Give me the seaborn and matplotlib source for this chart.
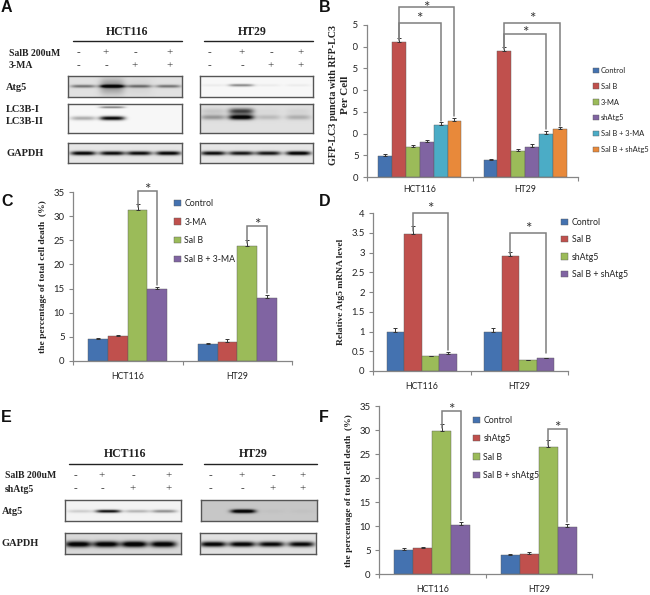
import matplotlib
matplotlib.use("Agg")
import matplotlib.pyplot as plt
import numpy as np
import pandas as pd
import seaborn as sns
from matplotlib.container import BarContainer
from matplotlib.transforms import Bbox

W, H = 650, 595

cell_lines = ["HCT116", "HT29"]

# panel B
b_groups = ["Control", "Sal B", "3-MA", "shAtg5", "Sal B + 3-MA", "Sal B + shAtg5"]
b_hct = [4.9, 31.0, 6.9, 8.0, 12.0, 12.9]
b_ht = [3.9, 29.0, 5.9, 6.9, 10.0, 11.0]
b_hct_err = [0.4, 1.1, 0.5, 0.6, 0.6, 0.6]
b_ht_err = [0.2, 0.9, 0.5, 0.6, 0.6, 0.5]

# panel C
c_groups = ["Control", "3-MA", "Sal B", "Sal B + 3-MA"]
c_hct = [4.6, 5.1, 31.3, 15.0]
c_ht = [3.6, 4.0, 23.9, 13.1]
c_hct_err = [0.2, 0.2, 1.3, 0.4]
c_ht_err = [0.1, 0.5, 1.2, 0.6]

# panel D
d_groups = ["Control", "Sal B", "shAtg5", "Sal B + shAtg5"]
d_hct = [1.0, 3.48, 0.37, 0.44]
d_ht = [1.0, 2.9, 0.27, 0.32]
d_hct_err = [0.1, 0.2, 0.02, 0.04]
d_ht_err = [0.09, 0.12, 0.01, 0.01]

# panel F
f_groups = ["Control", "shAtg5", "Sal B", "Sal B + shAtg5"]
f_hct = [5.1, 5.4, 29.8, 10.2]
f_ht = [3.9, 4.1, 26.4, 9.8]
f_hct_err = [0.3, 0.3, 1.5, 0.7]
f_ht_err = [0.3, 0.5, 1.5, 0.6]

# blot band strength per lane
a_atg5_hct = [0.45, 0.95, 0.45, 0.45]
a_atg5_smear = [0.0, 0.3, 0.05, 0.0]
a_atg5_ht = [0.05, 0.45, 0.05, 0.05]
a_lc3i_hct = [0.0, 0.5, 0.0, 0.0]
a_lc3ii_hct = [0.3, 1.0, 0.0, 0.0]
a_lc3i_ht = [0.1, 0.65, 0.03, 0.05]
a_lc3ii_ht = [0.3, 1.0, 0.15, 0.2]
a_gapdh_hct = [0.95, 0.9, 0.9, 0.95]
a_gapdh_ht = [0.9, 0.85, 0.85, 1.0]
e_atg5_hct = [0.15, 0.95, 0.25, 0.4]
e_atg5_ht = [0.0, 0.95, 0.02, 0.02]
e_gapdh_hct = [0.95, 0.95, 1.0, 0.95]
e_gapdh_ht = [0.95, 0.95, 0.9, 0.9]

a_rows = ["SalB 200uM", "3-MA"]
e_rows = ["SalB 200uM", "shAtg5"]
row_one_signs = ["-", "+", "-", "+"]
row_two_signs = ["-", "-", "+", "+"]

palette = ["#4472B0", "#C0504D", "#9BBB59", "#8064A2", "#4BACC6", "#E8893A"]
grey = "#868686"
serif = "Liberation Serif"
sans = "Lato"

sns.set_theme(style="white")
plt.rcParams["font.family"] = [sans, "DejaVu Sans"]

fig = plt.figure(figsize=(W / 100, H / 100), dpi=100)


def px_axes(x0, y0, x1, y1):
    return fig.add_axes([x0 / W, 1 - y1 / H, (x1 - x0) / W, (y1 - y0) / H])


def px_text(x, y, s, **kw):
    kw.setdefault("va", "center")
    return fig.text(x / W, 1 - y / H, s, **kw)


def bar_sets(ax):
    return [c for c in ax.containers if isinstance(c, BarContainer)]


def bar_panel(box, groups, hct, ht, hct_err, ht_err, ymax, ticks, labels, width, font, label_y):
    df = pd.DataFrame(
        {
            "Line": [cell_lines[0]] * len(groups) + [cell_lines[1]] * len(groups),
            "Group": groups + groups,
            "Value": hct + ht,
        }
    )
    ax = px_axes(*box)
    sns.barplot(
        data=df, x="Line", y="Value", hue="Group", palette=palette[: len(groups)],
        width=width, gap=0, errorbar=None, saturation=1, ax=ax,
        edgecolor="#5a5a5a", linewidth=0.3,
    )
    for h, cont in enumerate(bar_sets(ax)):
        for i, bar in enumerate(cont):
            err = [hct_err, ht_err][i][h]
            ax.errorbar(
                bar.get_x() + bar.get_width() / 2, bar.get_height(), yerr=[[0], [err]],
                color="#333333", capsize=1.6, elinewidth=0.7, capthick=0.7, clip_on=False,
            )
    ax.set_xlim(-0.5, 1.5)
    ax.set_ylim(0, ymax)
    ax.set_yticks(ticks)
    ax.set_yticklabels(labels, size=font + 0.6, color="#222222")
    ax.set_xticks([0, 1])
    ax.set_xticklabels(cell_lines, size=font, color="#222222")
    ax.set_xticks([-0.5, 0.5, 1.5], minor=True)
    ax.tick_params(axis="x", which="major", length=0, pad=label_y)
    ax.tick_params(axis="x", which="minor", length=3, color=grey, width=0.8, bottom=True)
    ax.tick_params(axis="y", length=3, color=grey, width=0.8, left=True, pad=3)
    ax.set_xlabel("")
    ax.set_ylabel("")
    sns.despine(ax=ax)
    for side in ["left", "bottom"]:
        ax.spines[side].set_color(grey)
        ax.spines[side].set_linewidth(0.9)
    ax.get_legend().remove()
    return ax


def panel_legend(ax, groups, x, y, font, spacing, textpad=0.45):
    handles = [c.patches[0] for c in bar_sets(ax)]
    ax.legend(
        handles, groups, loc="upper left", bbox_to_anchor=(x / W, 1 - y / H),
        bbox_transform=fig.transFigure, frameon=False, fontsize=font, labelspacing=spacing,
        handlelength=0.75, handleheight=0.75, handletextpad=textpad, borderpad=0, borderaxespad=0,
        labelcolor="#222222",
    )


def bracket(ax, start, end, top, low, star_off=-2.5):
    # start/end are (hue, category) of the bars that the bracket joins
    sets = bar_sets(ax)
    bars = [sets[h][i] for h, i in (start, end)]
    x0, x1 = [b.get_x() + b.get_width() / 2 for b in bars]
    start_low = bars[0].get_height() * 1.02
    ax.plot([x0, x0, x1, x1], [start_low, top, top, low], color="#7f7f7f", lw=1.1,
            clip_on=False, solid_joinstyle="miter")
    ax.annotate("*", ((x0 + x1) / 2, top), xytext=(0, star_off), textcoords="offset points",
                ha="center", va="bottom", fontsize=11, color="#333333", annotation_clip=False)


def blot(box, lanes, bands, bg=0.96, half=12.5, edge="#555555"):
    x0, y0, x1, y1 = box
    ax = px_axes(x0, y0, x1, y1)
    xx, yy = np.meshgrid(np.arange(x0, x1, 0.5), np.arange(y0, y1, 0.5))
    dark = np.zeros_like(xx)
    for yc, sigma, strengths in bands:
        for xc, s in zip(lanes, strengths):
            dark += s * np.exp(-(((xx - xc) / half) ** 4) - ((yy - yc) / sigma) ** 2)
    img = np.clip(bg - dark, 0.02, 1)
    ax.imshow(img, cmap="gray", vmin=0, vmax=1, aspect="auto", interpolation="bilinear",
              extent=(x0, x1, y1, y0))
    ax.set_xticks([])
    ax.set_yticks([])
    for s in ax.spines.values():
        s.set_visible(True)
        s.set_color(edge)
        s.set_linewidth(1.0)


def header(name, cx, y, x0, x1, line_y):
    px_text(cx, y, name, family=serif, weight="bold", size=8.5, ha="center", color="#222222")
    fig.add_artist(plt.Line2D([x0 / W, x1 / W], [1 - line_y / H] * 2, color="#222222", lw=1.0))


def sign_row(xs, y, signs):
    for x, s in zip(xs, signs):
        px_text(x, y, s, size=8, ha="center", color="#333333", family=serif)


def blot_label(x, y, s, size=7.5):
    px_text(x, y, s, family=serif, weight="bold", size=size, color="#222222")


# panel letters
for s, x, y in [("A", 1, 8), ("B", 319, 8), ("C", 1, 202), ("D", 319, 202), ("E", 1, 418), ("F", 319, 418)]:
    px_text(x, y, s, family="Liberation Sans", weight="bold", size=11.5, color="#111111")

# panel A
header(cell_lines[0], 127, 32, 73, 182, 41)
header(cell_lines[1], 252, 32, 204, 313, 41)
blot_label(9, 53, a_rows[0], 7)
blot_label(9, 66, a_rows[1], 7)
a_hct_x = [78, 106, 135, 170]
a_ht_x = [209, 242, 271, 301]
sign_row(a_hct_x + a_ht_x, 53, row_one_signs * 2)
sign_row(a_hct_x + a_ht_x, 66, row_two_signs * 2)
blot_label(6, 87, "Atg5")
blot_label(6, 110, "LC3B-I")
blot_label(6, 122, "LC3B-II")
blot_label(6, 154, "GAPDH")
a_lanes_hct = [83, 112, 139, 168]
a_lanes_ht = [213, 241, 268, 298]
blot((68, 76, 182, 97), a_lanes_hct, [(86, 1.5, a_atg5_hct), (86, 8, a_atg5_smear)], bg=0.88)
blot((200, 76, 313, 97), a_lanes_ht, [(85, 1.3, a_atg5_ht)], bg=0.97)
blot((68, 104, 182, 133), a_lanes_hct, [(107, 1.0, a_lc3i_hct), (118, 2.0, a_lc3ii_hct)], bg=0.97)
blot((200, 104, 313, 133), a_lanes_ht, [(111, 3.0, a_lc3i_ht), (117, 2.5, a_lc3ii_ht)], bg=0.88)
blot((68, 143, 182, 163), a_lanes_hct, [(153, 2.0, a_gapdh_hct)], bg=0.9)
blot((200, 143, 313, 163), a_lanes_ht, [(153, 2.0, a_gapdh_ht)], bg=0.9)

# panel E
header(cell_lines[0], 125, 454, 69, 182, 464)
header(cell_lines[1], 253, 454, 204, 317, 464)
blot_label(5, 476, e_rows[0], 7)
blot_label(5, 489, e_rows[1], 7)
e_hct_x = [75, 102, 133, 169]
e_ht_x = [210, 242, 273, 303]
sign_row(e_hct_x + e_ht_x, 476, row_one_signs * 2)
sign_row(e_hct_x + e_ht_x, 489, row_two_signs * 2)
blot_label(2, 511, "Atg5")
blot_label(2, 544, "GAPDH")
blot((65, 500, 181, 521), [80, 108, 137, 164], [(511, 1.5, e_atg5_hct)], bg=0.95)
blot((201, 500, 317, 521), [218, 243, 273, 302], [(511, 1.9, e_atg5_ht)], bg=0.78)
blot((65, 533, 181, 554), [78, 106, 134, 163], [(544, 3.0, e_gapdh_hct)], bg=0.85, half=13)
blot((200, 533, 316, 554), [213, 242, 271, 301], [(544, 2.6, e_gapdh_ht)], bg=0.88, half=13)

# panel B
tick5 = list(range(0, 36, 5))
ax_b = bar_panel((367, 25, 578, 177), b_groups, b_hct, b_ht, b_hct_err, b_ht_err, 35, tick5,
                 [str(t) for t in tick5], 0.79, 6.3, 6)
bracket(ax_b, (1, 0), (4, 0), 35.5, 13.0)
bracket(ax_b, (1, 0), (5, 0), 39.1, 14.0, star_off=-5.5)
bracket(ax_b, (1, 1), (4, 1), 32.9, 11.0, star_off=-4.0)
bracket(ax_b, (1, 1), (5, 1), 35.5, 11.8)
panel_legend(ax_b, b_groups, 593, 67, 5.4, 1.17, textpad=0.3)
# the y label sits over the left part of these numbers
clip = Bbox.from_extents(353, 0, W, H)
for lab in ax_b.get_yticklabels():
    lab.set_clip_on(True)
    lab.set_clip_box(clip)
px_text(333, 95, "GFP-LC3 puncta with RFP-LC3", family=serif, weight="bold", size=7.2, rotation=90,
        ha="center", color="#222222")
px_text(346, 95, "Per Cell", family=serif, weight="bold", size=8, rotation=90, ha="center", color="#222222")

# panel C
ax_c = bar_panel((73, 192, 292, 361), c_groups, c_hct, c_ht, c_hct_err, c_ht_err, 35, tick5,
                 [str(t) for t in tick5], 0.72, 6.3, 8)
bracket(ax_c, (2, 0), (3, 0), 35.3, 15.8, star_off=-4.5)
bracket(ax_c, (2, 1), (3, 1), 28.0, 14.0, star_off=-4.5)
panel_legend(ax_c, c_groups, 174, 199, 6.3, 1.1)
px_text(43, 277, "the percentage of total cell death  (%)", family=serif, weight="bold", size=6.8,
        rotation=90, ha="center", color="#222222")

# panel D
ax_d = bar_panel((373, 213, 568, 371), d_groups, d_hct, d_ht, d_hct_err, d_ht_err, 4,
                 [0, 0.5, 1, 1.5, 2, 2.5, 3, 3.5, 4], ["0", "0.5", "1", "1.5", "2", "2.5", "3", "3.5", "4"],
                 0.72, 6.3, 8)
bracket(ax_d, (1, 0), (3, 0), 4.0, 0.52)
bracket(ax_d, (1, 1), (3, 1), 3.5, 0.46)
panel_legend(ax_d, d_groups, 561, 218, 6.3, 0.95)
px_text(341, 292, "Relative Atg5 mRNA level", family=serif, weight="bold", size=6.8, rotation=90,
        ha="center", color="#222222")

# panel F
ax_f = bar_panel((379, 406, 592, 574), f_groups, f_hct, f_ht, f_hct_err, f_ht_err, 35, tick5,
                 [str(t) for t in tick5], 0.71, 6.3, 8)
bracket(ax_f, (2, 0), (3, 0), 34.0, 11.2, star_off=-4.5)
bracket(ax_f, (2, 1), (3, 1), 30.2, 10.8, star_off=-4.5)
panel_legend(ax_f, f_groups, 473, 416, 6.3, 1.06)
px_text(349, 491, "the percentage of total cell death  (%)", family=serif, weight="bold", size=6.8,
        rotation=90, ha="center", color="#222222")

fig.savefig("out.png", dpi=100)
